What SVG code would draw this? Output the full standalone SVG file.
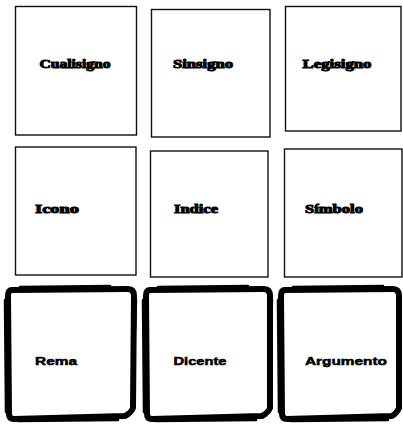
<svg xmlns="http://www.w3.org/2000/svg" width="403" height="424" viewBox="0 0 403 424">
<style>
.thin{fill:#fff;stroke:#111;stroke-width:1.4}
.brush{fill:none;stroke:#000;stroke-width:6;stroke-linejoin:round;stroke-linecap:round}
.brush2{fill:none;stroke:#000;stroke-width:2.5;stroke-linecap:round}
.ser{font-family:"Liberation Serif",serif;font-weight:bold;font-size:12.5px;fill:#000;stroke:#000;stroke-width:1;text-anchor:middle}
.sans{font-family:"Liberation Sans",sans-serif;font-weight:bold;font-size:11px;fill:#000;stroke:#000;stroke-width:0.5;text-anchor:middle}
</style>
<rect width="403" height="424" fill="#fff"/>
<g id="cualisigno"><rect class="thin" x="15.5" y="6.5" width="121" height="128.5"/><text class="ser" x="75" y="68" textLength="71" lengthAdjust="spacingAndGlyphs">Cualisigno</text></g>
<g id="sinsigno"><rect class="thin" x="151.5" y="9.5" width="118.5" height="127.5"/><text class="ser" x="203" y="68" textLength="60" lengthAdjust="spacingAndGlyphs">Sinsigno</text></g>
<g id="legisigno"><rect class="thin" x="285.5" y="6.5" width="115.5" height="124.5"/><text class="ser" x="337" y="68" textLength="69" lengthAdjust="spacingAndGlyphs">Legisigno</text></g>
<g id="icono"><rect class="thin" x="15.5" y="147" width="120.5" height="128"/><text class="ser" x="57" y="213" textLength="44" lengthAdjust="spacingAndGlyphs">Icono</text></g>
<g id="indice"><rect class="thin" x="150.5" y="151" width="117.5" height="126"/><text class="ser" x="196" y="213" textLength="44" lengthAdjust="spacingAndGlyphs">Indice</text></g>
<g id="simbolo"><rect class="thin" x="284.5" y="149" width="117.5" height="128"/><text class="ser" x="334" y="213" textLength="58" lengthAdjust="spacingAndGlyphs">Símbolo</text></g>
<g id="rema">
<path class="brush" d="M12,290 Q8,290 8,296 L9,414 Q9,419 14,419 L125,416 Q131,413 133,408 L134,296 Q134,289 128,289 Z"/>
<path class="brush2" d="M5,300 L6,412 M18,421 L118,420 M136,300 L135,330 M20,287 L110,286"/>
<text class="sans" x="56" y="365" textLength="42" lengthAdjust="spacingAndGlyphs">Rema</text></g>
<g id="dicente">
<path class="brush" d="M150,290 Q146,290 146,296 L147,414 Q147,419 152,419 L262,416 Q268,413 270,408 L270,296 Q270,289 264,289 Z"/>
<path class="brush2" d="M143,300 L144,412 M156,421 L256,420 M272,300 L271,330 M158,287 L248,286"/>
<text class="sans" x="200" y="365" textLength="53" lengthAdjust="spacingAndGlyphs">Dicente</text></g>
<g id="argumento">
<path class="brush" d="M285,290 Q281,290 281,296 L282,414 Q282,419 287,419 L392,416 Q397,413 399,408 L399,296 Q399,289 393,289 Z"/>
<path class="brush2" d="M278,300 L279,412 M291,421 L388,420 M293,287 L383,286"/>
<text class="sans" x="346" y="365" textLength="82" lengthAdjust="spacingAndGlyphs">Argumento</text></g>
<g id="connectors"></g>
</svg>
